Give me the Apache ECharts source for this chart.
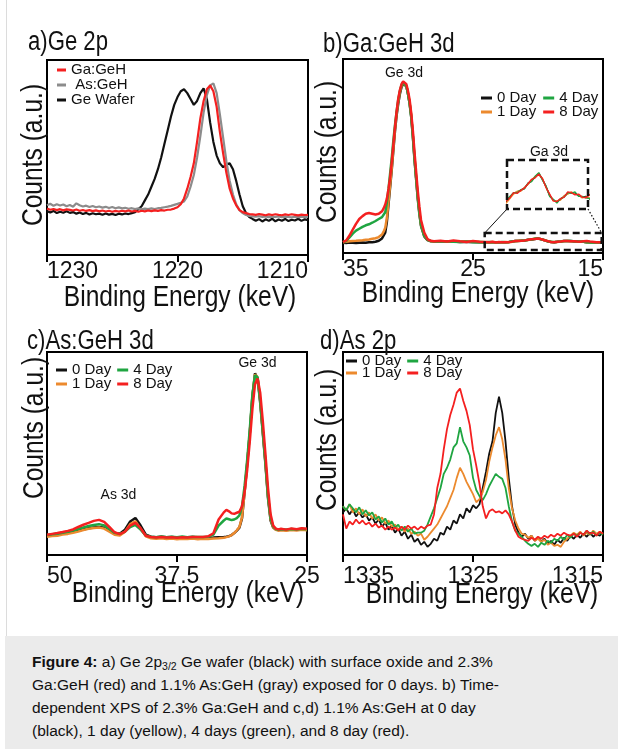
<!DOCTYPE html>
<html><head><meta charset="utf-8">
<script src="https://cdn.jsdelivr.net/npm/echarts@6/dist/echarts.min.js"></script>
<style>
html,body{margin:0;padding:0;background:#fff;}
#chart{position:absolute;left:0;top:0;width:618px;height:749px;}
#cap{position:absolute;left:5px;top:636px;width:613px;height:113px;background:#ebebeb;box-sizing:border-box;padding:14px 0 0 27px;font-family:'Liberation Sans',Arial,sans-serif;font-size:15.5px;line-height:23px;color:#111;white-space:nowrap;}
#cap sub{font-size:10.5px;vertical-align:-3px;line-height:0;}
</style></head><body>
<div id="chart"></div>
<div id="cap"><b>Figure 4:</b> a) Ge 2p<sub>3/2</sub> Ge wafer (black) with surface oxide and 2.3%<br>Ga:GeH (red) and 1.1% As:GeH (gray) exposed for 0 days. b) Time-<br>dependent XPS of 2.3% Ga:GeH and c,d) 1.1% As:GeH at 0 day<br>(black), 1 day (yellow), 4 days (green), and 8 day (red).</div>
<script>
// ---------- Panel a: Ge 2p ----------
const aEnergy = [
1230, 1229.75, 1229.5, 1229.25, 1229, 1228.75, 1228.5, 1228.25,
1228, 1227.75, 1227.5, 1227.25, 1227, 1226.75, 1226.5, 1226.25,
1226, 1225.75, 1225.5, 1225.25, 1225, 1224.75, 1224.5, 1224.25,
1224, 1223.75, 1223.5, 1223.25, 1223, 1222.75, 1222.5, 1222.25,
1222, 1221.75, 1221.5, 1221.25, 1221, 1220.75, 1220.5, 1220.25,
1220, 1219.75, 1219.5, 1219.25, 1219, 1218.75, 1218.5, 1218.25,
1218, 1217.75, 1217.5, 1217.25, 1217, 1216.75, 1216.5, 1216.25,
1216, 1215.75, 1215.5, 1215.25, 1215, 1214.75, 1214.5, 1214.25,
1214, 1213.75, 1213.5, 1213.25, 1213, 1212.75, 1212.5, 1212.25,
1212, 1211.75, 1211.5, 1211.25, 1211, 1210.75, 1210.5, 1210.25,
1210];
const aGaGeH = [
23.8, 23.2, 23.6, 23.0, 23.5, 22.9, 23.4, 23.1,
22.8, 23.3, 22.7, 23.1, 22.6, 23.0, 22.5, 22.9,
22.4, 22.8, 22.3, 22.7, 22.2, 22.6, 22.3, 22.7,
22.4, 22.8, 22.3, 22.6, 22.2, 22.7, 22.4, 22.8,
22.5, 22.9, 22.6, 23.0, 22.8, 23.2, 23.3, 23.8,
24.5, 26, 29, 34, 40, 47, 58, 70,
79, 85, 87, 84, 76, 63, 52, 42,
34, 29, 25.5, 23, 22, 21.5, 21, 20.8,
20.6, 21, 20.7, 20.4, 20.8, 20.5, 20.9, 20.6,
20.4, 20.8, 20.5, 20.9, 20.6, 20.3, 20.7, 20.5,
20.6];
const aAsGeH = [
25.5, 26.3, 25.2, 26.0, 25.4, 25.9, 25.0, 25.6,
24.8, 26.5, 25.5, 24.9, 25.3, 24.6, 25.1, 24.5,
24.9, 24.3, 24.7, 24.1, 24.6, 24.0, 24.4, 23.9,
24.2, 23.7, 24.0, 23.5, 23.9, 23.4, 23.8, 23.5,
23.9, 23.6, 24.0, 24.2, 24.5, 24.8, 25.2, 25.7,
26.2, 26.8, 27.5, 30, 35, 41, 50, 61,
73, 82, 87, 88, 83, 72, 60, 48,
38, 31, 26, 23, 21.5, 20.5, 20, 19.8,
19.6, 19.9, 19.5, 19.8, 19.4, 19.7, 19.5, 19.8,
19.4, 19.7, 19.5, 19.3, 19.6, 19.4, 19.7, 19.5,
19.6];
const aGeWafer = [
22.5, 21.8, 22.6, 21.5, 22.2, 21.7, 22.4, 21.6,
22.0, 21.2, 21.8, 21.0, 21.6, 20.8, 21.4, 20.9,
21.2, 20.6, 21.3, 20.7, 21.1, 20.5, 21.2, 20.8,
21.3, 21.0, 21.5, 22.0, 23.5, 25, 28, 31,
35, 39, 44, 50, 57, 64, 71, 77,
81, 84, 85, 83, 80, 77, 79, 83,
85.5, 80, 68, 58, 51, 47, 45, 46.5,
47, 44, 38, 31, 25, 21.5, 19.5, 18.5,
17.6, 18.4, 17.2, 18.3, 17.5, 18.6, 17.3, 18.2,
17.6, 18.5, 17.4, 18.1, 17.7, 18.6, 17.5, 18.3,
17.9];

// ---------- Panel b: Ga:GeH 3d ----------
const bEnergy = [
35, 34.75, 34.5, 34.25, 34, 33.75, 33.5, 33.25, 33, 32.75, 32.5, 32.25, 32,
31.875, 31.75, 31.625, 31.5, 31.375, 31.25, 31.125, 31, 30.875, 30.75, 30.625, 30.5,
30.375, 30.25, 30.125, 30, 29.875, 29.75, 29.625, 29.5, 29.375, 29.25, 29.125,
29, 28.75, 28.5, 28.25, 28,
27.5, 27, 26.5, 26, 25.5, 25, 24.5,
24, 23.75, 23.5, 23.25, 23, 22.75, 22.5, 22.25,
22, 21.75, 21.5, 21.25, 21, 20.75, 20.5, 20.25,
20, 19.75, 19.5, 19.25, 19, 18.75, 18.5, 18.25,
18, 17.75, 17.5, 17.25, 17, 16.75, 16.5, 16.25,
16, 15.5, 15];
const b0Day = [
5.3, 5.2, 5.4, 5.3, 5.2, 5.3, 5.4, 5.3, 5.5, 5.6, 5.8, 6.3, 7.5,
8.5, 10.5, 16, 25, 34, 43, 53, 63, 71, 77, 82, 85.5,
87.2, 87.5, 86, 82, 77, 70, 60, 48, 38, 28, 20,
14, 8.5, 6.6, 6.0, 5.9,
5.9, 5.8, 5.9, 5.7, 5.8, 5.7, 5.6,
5.5, 5.6, 5.5, 5.6, 5.5, 5.6, 5.5, 5.6,
5.9, 6.15, 6.25, 6.35, 6.5, 6.8, 7.0, 7.25,
7.5, 7.1, 6.6, 6.0, 5.7, 5.6, 5.75, 5.95,
6.15, 6.2, 6.15, 6.0, 5.9, 5.95, 5.8, 5.6,
5.5, 5.5, 5.4];
const b1Day = [
5.6, 5.8, 6.0, 6.2, 6.3, 6.5, 6.6, 6.8, 7.0, 7.3, 7.6, 8.2, 9.5,
11, 13, 18, 26.5, 35, 44, 54, 64, 72, 78, 83, 86,
87.5, 87.5, 86, 82.5, 77.5, 71, 61, 49.5, 39, 29, 21,
14.5, 9, 6.8, 6.1, 6.0,
6.0, 5.9, 6.0, 5.8, 5.9, 5.8, 5.7,
5.6, 5.5, 5.65, 5.5, 5.6, 5.55, 5.65, 5.5,
5.8, 6.1, 6.3, 6.3, 6.55, 6.75, 7.05, 7.3,
7.4, 7.15, 6.55, 6.05, 5.65, 5.65, 5.7, 6.0,
6.1, 6.25, 6.1, 6.05, 5.85, 5.9, 5.85, 5.55,
5.55, 5.5, 5.45];
const b4Day = [
5.5, 6.2, 8, 10, 11.5, 12.5, 13.5, 14.3, 14.8, 15.6, 16.5, 17.5, 18.5,
19.5, 21, 26, 33, 41, 49, 58, 66, 73, 79, 83.5, 86.5,
88, 88, 86, 82, 77, 70, 60, 49, 39, 29, 21,
14.5, 9, 6.8, 6.2, 6.0,
5.9, 6.1, 5.8, 5.7, 5.9, 5.6, 5.7,
5.55, 5.7, 5.5, 5.6, 5.45, 5.65, 5.5, 5.7,
5.95, 6.2, 6.2, 6.4, 6.45, 6.85, 6.95, 7.3,
7.55, 7.05, 6.65, 5.95, 5.75, 5.5, 5.8, 5.9,
6.2, 6.15, 6.25, 5.95, 5.95, 5.85, 5.8, 5.6,
5.45, 5.5, 5.35];
const b8Day = [
5.6, 6.5, 9, 12, 15, 17.5, 19, 20.2, 20.6, 20.2, 19.8, 20.2, 21.5,
23, 25, 28, 33, 39, 47, 56, 65, 73, 79.5, 84, 87,
88.5, 88.5, 87, 83.5, 79, 72, 63, 52, 42, 32, 24,
17, 10.5, 7.2, 6.3, 6.1,
6.3, 5.9, 6.4, 6.0, 5.7, 6.2, 5.8,
5.7, 5.5, 5.75, 5.45, 5.7, 5.5, 5.6, 5.65,
5.85, 6.2, 6.15, 6.35, 6.5, 6.8, 7.1, 7.2,
7.45, 7.15, 6.55, 6.1, 5.65, 5.6, 5.8, 5.9,
6.25, 6.2, 6.05, 6.1, 5.9, 5.85, 6.05, 6.2,
5.9, 5.6, 5.5];

// ---------- Panel c: As:GeH 3d ----------
const cEnergy = [
50, 49.5, 49, 48.5, 48, 47.5, 47, 46.5,
46, 45.5, 45, 44.5, 44, 43.5, 43, 42.5,
42, 41.5, 41, 40.5, 40, 39.5, 39, 38.5,
38, 37.5, 37, 36.5, 36, 35.5, 35, 34.5,
34, 33.5, 33,
32.75, 32.5, 32.25, 32, 31.75, 31.5, 31.25, 31,
30.75, 30.5, 30.25, 30, 29.75, 29.5, 29.25, 29,
28.75, 28.5, 28.25, 28, 27.75, 27.5,
27, 26.5, 26, 25.5, 25];
const c0Day = [
9.5, 9.8, 10.2, 10.6, 11.0, 11.5, 12.0, 12.6,
13.2, 13.6, 13.8, 13.4, 12.0, 10.8, 10.5, 12.5,
16.5, 18.2, 14.5, 10.0, 9.0, 8.8, 9.0, 8.7,
8.9, 8.6, 8.8, 8.7, 8.9, 8.6, 8.7, 8.5,
8.6, 8.8, 8.9,
9.0, 9.3, 9.8, 10.8, 12, 13.5, 18, 31,
45, 60, 78, 89.5, 87, 75, 60, 45,
28, 17, 13.5, 12.6, 12.3, 12.5,
12.3, 12.6, 12.4, 12.7, 12.5];
const c1Day = [
9.0, 9.3, 9.5, 10.1, 10.4, 11.0, 11.6, 12.3,
12.9, 13.3, 13.5, 13.0, 11.5, 10.0, 9.6, 11.5,
15.2, 16.6, 13.0, 9.2, 8.2, 8.0, 8.3, 7.9,
8.1, 7.8, 8.0, 7.9, 8.1, 7.8, 8.0, 7.9,
8.1, 8.2, 8.5,
8.8, 9.2, 9.8, 10.8, 12.2, 13.8, 18.5, 31,
45, 60, 78, 89, 87.5, 76, 61, 46,
29, 17.5, 13.5, 12.4, 12.0, 12.2,
12.0, 12.3, 12.1, 12.4, 12.2];
const c4Day = [
9.8, 10.2, 10.5, 11.0, 11.4, 12.0, 12.8, 13.6,
14.3, 14.8, 15.2, 14.6, 12.8, 10.9, 10.4, 11.5,
13.8, 14.8, 12.5, 9.6, 9.0, 8.8, 9.1, 8.7,
9.0, 8.8, 9.1, 8.8, 9.0, 8.9, 8.9, 9.0,
10.0, 14.5, 17.0,
18.0, 17.6, 17.2, 17.5, 18.2, 19.5, 24, 34,
47, 62, 79, 88.5, 87.5, 76, 61, 46,
29, 18, 14, 12.8, 12.4, 12.6,
12.5, 12.8, 12.6, 12.9, 12.7];
const c8Day = [
10.0, 10.4, 10.8, 11.3, 11.9, 12.6, 13.8, 14.9,
15.8, 16.8, 17.3, 16.3, 13.8, 11.2, 10.3, 11.5,
14.5, 15.8, 13.2, 9.5, 8.9, 8.6, 8.9, 8.6,
8.8, 8.5, 8.8, 8.6, 8.9, 8.9, 8.9, 9.2,
10.7, 17.5, 21.0,
22.2, 21.5, 20.5, 20.3, 20.8, 21.3, 24, 31,
42, 56, 72, 84, 87, 80, 66, 50,
33, 20, 14.5, 13.0, 12.6, 12.9,
12.5, 13.1, 12.7, 13.2, 12.9];

// ---------- Panel d: As 2p ----------
const dEnergy = [
1335, 1334.75, 1334.5, 1334.25, 1334, 1333.75, 1333.5, 1333.25,
1333, 1332.75, 1332.5, 1332.25, 1332, 1331.75, 1331.5, 1331.25,
1331, 1330.75, 1330.5, 1330.25, 1330, 1329.75, 1329.5, 1329.25,
1329, 1328.75, 1328.5, 1328.25, 1328, 1327.75, 1327.5, 1327.25,
1327, 1326.75, 1326.5, 1326.25, 1326, 1325.75, 1325.5, 1325.25,
1325, 1324.75, 1324.5, 1324.25, 1324, 1323.75, 1323.5, 1323.25,
1323, 1322.75, 1322.5, 1322.25, 1322, 1321.75, 1321.5, 1321.25,
1321, 1320.75, 1320.5, 1320.25, 1320, 1319.75, 1319.5, 1319.25,
1319, 1318.75, 1318.5, 1318.25, 1318, 1317.75, 1317.5, 1317.25,
1317, 1316.75, 1316.5, 1316.25, 1316, 1315.75, 1315.5, 1315.25,
1315];
const d0Day = [
21, 23, 20, 22.5, 19, 21, 18.5, 20,
17, 18.5, 15.5, 17.5, 14, 16, 12.5, 14.5,
11, 13, 9.5, 11.5, 8, 10, 6.5, 8,
5, 6.5, 4, 5.5, 8, 7, 11, 10,
14, 12.5, 17, 15.5, 20, 18, 23, 21,
24.5, 23, 25, 33, 41, 50, 56, 70,
78, 70, 56, 38, 24, 15, 11, 9,
10.5, 8, 9.5, 7, 8.5, 6.5, 8, 5.5,
7, 5, 7.5, 6, 8.5, 7, 9.5, 8,
10, 8.5, 10.5, 9, 11, 9, 10.5, 9.5,
11];
const d1Day = [
24, 22, 25, 21, 23, 20, 22.5, 19,
21, 18, 20, 17, 18.5, 15.5, 17, 14,
15, 12.5, 14, 11.5, 13, 10.5, 11.5, 9.5,
10.5, 7.5, 9, 11, 13, 15, 18, 21,
24, 28, 32, 38, 43, 40, 36, 33,
30, 26, 27.5, 31, 37, 46, 53, 59,
63, 57, 47, 33, 23, 17, 13, 10.5,
10, 8.5, 9.5, 7, 8, 6.5, 7.5, 5,
6, 4.5, 5, 4, 6.5, 8, 9.5, 11,
10, 11.5, 9.5, 11, 10, 12, 10.5, 11.5,
10.5];
const d4Day = [
24, 22, 25, 23, 21, 23.5, 20, 22,
19.5, 21, 17.5, 19, 16, 18, 15, 16.5,
13.5, 15, 12, 14, 11.5, 13, 10.5, 11,
11, 12, 15, 19, 23, 28, 33, 40,
43, 47, 53, 55, 63, 56, 53, 49,
38, 32, 29, 27, 30, 34, 37, 40,
38.5, 37.5, 33, 24, 16.5, 12, 10.5, 9,
7, 5.5, 4.5, 5.5, 4, 6, 5, 7,
6, 8, 7, 9, 7.5, 10, 8.5, 10.5,
9.5, 11, 10, 12, 10, 11.5, 9.5, 11,
10];
const d8Day = [
20, 13, 16.5, 15, 17.5, 15.5, 17, 15,
16, 14, 15.5, 13.5, 14.5, 12.5, 14, 12.5,
13.5, 12, 14, 12.5, 14.5, 13, 14, 12.5,
14, 13, 14.5, 15, 20, 33, 40, 52,
62, 69, 74, 80, 82, 76, 71, 64,
52, 44, 35, 24, 18, 21.5, 22.5, 21,
21.5, 20.5, 22, 20, 16.5, 12, 9, 8,
7.5, 7, 8.5, 7.5, 9, 8, 9.5, 8.5,
10, 9, 10.5, 9.5, 11, 10, 9.5, 10.5,
9, 11, 10, 12, 10.5, 11, 9.5, 11.5,
10.5];

// ---------- axis ranges / annotation ranges ----------
const aXRange = [1210, 1230, 10];
const bXRange = [15, 35, 10];
const cXRange = [25, 50, 12.5];
const dXRange = [1315, 1335, 10];
const insetXRange = [16.6, 22.2];
const insetYRange = [5.1, 8.4];
const gaBoxE = [15.1, 24.1];
const gaBoxV = [1.5, 10.3];

const COLORS = {'0 Day':'#111111','1 Day':'#ec8a2e','4 Day':'#1fa541','8 Day':'#f42020',
  'Ga:GeH':'#f42020','As:GeH':'#8c8c8c','Ge Wafer':'#111111'};
const FONT = "'Liberation Sans', Arial, sans-serif";
const NARROW = 0.82;

const zip = (xs, ys) => xs.map((x, i) => [x, ys[i]]);
function mk(name, gi, xs, ys, w) {
  return {type:'line', name, xAxisIndex:gi, yAxisIndex:gi, data:zip(xs, ys), symbol:'none', showSymbol:false,
    animation:false, clip:true, lineStyle:{color:COLORS[name], width:w}, itemStyle:{color:COLORS[name]},
    emphasis:{disabled:true}};
}
function xAx(gi, r, margin, aMin, aMax) {
  return {gridIndex:gi, type:'value', min:r[0], max:r[1], interval:r[2], inverse:true,
    axisLine:{show:true, lineStyle:{color:'#000', width:2}},
    axisTick:{show:true, inside:false, length:7, lineStyle:{color:'#000', width:2}},
    axisLabel:{show:true, margin, color:'#111', fontSize:23, lineHeight:23, fontFamily:FONT,
      alignMinLabel:aMin, alignMaxLabel:aMax, formatter:v => String(v)},
    splitLine:{show:false}};
}
function yAx(gi) {
  return {gridIndex:gi, type:'value', min:0, max:100, axisLine:{show:false}, axisTick:{show:false},
    axisLabel:{show:false}, splitLine:{show:false}};
}
const gridBase = {show:true, borderColor:'#000', borderWidth:2, backgroundColor:'rgba(0,0,0,0)'};
function legend(data, left, top, gap, extra) {
  return Object.assign({data, left, top, orient:'horizontal', icon:'rect', itemWidth:11, itemHeight:3,
    itemGap:gap, selectedMode:false, padding:0,
    textStyle:{fontSize:15, lineHeight:15, fontFamily:FONT, color:'#111'}}, extra || {});
}

const option = {
  animation:false,
  backgroundColor:'#fff',
  grid:[
    Object.assign({left:47, top:60, width:261, height:195}, gridBase),
    Object.assign({left:343, top:59, width:260, height:194}, gridBase),
    Object.assign({left:47, top:352, width:260, height:203}, gridBase),
    Object.assign({left:343, top:352, width:260, height:203}, gridBase),
    {left:507, top:160, width:81, height:49, show:false}
  ],
  xAxis:[
    xAx(0, aXRange, 5, 'right', 'left'),
    xAx(1, bXRange, 4.7, 'right', 'left'),
    xAx(2, cXRange, 10, 'center', 'left'),
    xAx(3, dXRange, 10, 'right', 'left'),
    {gridIndex:4, type:'value', min:insetXRange[0], max:insetXRange[1], inverse:true, show:false}
  ],
  yAxis:[yAx(0), yAx(1), yAx(2), yAx(3),
    {gridIndex:4, type:'value', min:insetYRange[0], max:insetYRange[1], show:false}],
  legend:[
    legend(['Ga:GeH','As:GeH','Ge Wafer'], 57, 62.5, 0, {orient:'vertical', itemWidth:9,
      formatter:n => n === 'As:GeH' ? ' ' + n : n}),
    legend(['0 Day','4 Day'], 481, 90.5, 7),
    legend(['1 Day','8 Day'], 481, 104.5, 7),
    legend(['0 Day','4 Day'], 56, 362.5, 6),
    legend(['1 Day','8 Day'], 56, 376.5, 6),
    legend(['0 Day','4 Day'], 346, 353.5, 6),
    legend(['1 Day','8 Day'], 346, 365.5, 6)
  ],
  series:[
    mk('Ge Wafer', 0, aEnergy, aGeWafer, 2.2),
    mk('As:GeH', 0, aEnergy, aAsGeH, 2.2),
    mk('Ga:GeH', 0, aEnergy, aGaGeH, 2.2),
    mk('0 Day', 1, bEnergy, b0Day, 2.5),
    mk('1 Day', 1, bEnergy, b1Day, 2.5),
    mk('4 Day', 1, bEnergy, b4Day, 2.5),
    mk('8 Day', 1, bEnergy, b8Day, 2.5),
    mk('0 Day', 4, bEnergy, b0Day, 1.4),
    mk('1 Day', 4, bEnergy, b1Day, 1.4),
    mk('4 Day', 4, bEnergy, b4Day, 1.4),
    mk('8 Day', 4, bEnergy, b8Day, 1.4),
    mk('0 Day', 2, cEnergy, c0Day, 2.5),
    mk('1 Day', 2, cEnergy, c1Day, 2.5),
    mk('4 Day', 2, cEnergy, c4Day, 2.5),
    mk('8 Day', 2, cEnergy, c8Day, 2.5),
    mk('0 Day', 3, dEnergy, d0Day, 1.8),
    mk('1 Day', 3, dEnergy, d1Day, 1.8),
    mk('4 Day', 3, dEnergy, d4Day, 1.8),
    mk('8 Day', 3, dEnergy, d8Day, 1.8)
  ]
};

const chart = echarts.init(document.getElementById('chart'), null, {renderer:'canvas'});
chart.setOption(option);

function txt(text, x, y, size, align, rot, sx) {
  return {type:'text', x, y, rotation:rot || 0, scaleX:sx || 1, silent:true, z:50,
    style:{text, fill:'#111', fontSize:size, fontFamily:FONT, align:align || 'center', verticalAlign:'middle'}};
}
const tl = chart.convertToPixel({gridIndex:1}, [gaBoxE[1], gaBoxV[1]]);
const br = chart.convertToPixel({gridIndex:1}, [gaBoxE[0], gaBoxV[0]]);
const itl = chart.convertToPixel({gridIndex:4}, [insetXRange[1], insetYRange[1]]);
const ibr = chart.convertToPixel({gridIndex:4}, [insetXRange[0], insetYRange[0]]);

const graphic = [
  {type:'line', silent:true, shape:{x1:6.5, y1:0, x2:6.5, y2:636}, style:{stroke:'#dcdcdc', lineWidth:1}},
  txt('a)Ge 2p', 28, 42.5, 27, 'left', 0, NARROW),
  txt('b)Ga:GeH 3d', 323, 45, 27, 'left', 0, NARROW),
  txt('c)As:GeH 3d', 27, 342, 27, 'left', 0, NARROW),
  txt('d)As 2p', 320, 342, 27, 'left', 0, NARROW),
  txt('Binding Energy (keV)', 180, 297.5, 30, 'center', 0, NARROW),
  txt('Binding Energy (keV)', 478, 294, 30, 'center', 0, NARROW),
  txt('Binding Energy (keV)', 188, 594, 30, 'center', 0, NARROW),
  txt('Binding Energy (keV)', 482, 595, 30, 'center', 0, NARROW),
  txt('Counts (a.u.)', 34, 155, 30, 'center', Math.PI / 2, NARROW),
  txt('Counts (a.u.)', 328, 152, 30, 'center', Math.PI / 2, NARROW),
  txt('Counts (a.u.)', 35, 428, 30, 'center', Math.PI / 2, NARROW),
  txt('Counts (a.u.)', 328, 440, 30, 'center', Math.PI / 2, NARROW),
  txt('Ge 3d', 404, 73, 14),
  txt('Ga 3d', 549, 152, 14),
  txt('As 3d', 118.5, 495, 14),
  txt('Ge 3d', 257.5, 363, 14),
  {type:'rect', silent:true, z:40, shape:{x:tl[0], y:tl[1], width:br[0]-tl[0], height:br[1]-tl[1]},
    style:{fill:'none', stroke:'#111', lineWidth:2.5, lineDash:[7,4]}},
  {type:'rect', silent:true, z:40, shape:{x:itl[0], y:itl[1], width:ibr[0]-itl[0], height:ibr[1]-itl[1]},
    style:{fill:'none', stroke:'#111', lineWidth:2.5, lineDash:[7,4]}},
  {type:'line', silent:true, z:40, shape:{x1:itl[0], y1:ibr[1], x2:tl[0], y2:tl[1]},
    style:{stroke:'#111', lineWidth:1}},
  {type:'line', silent:true, z:40, shape:{x1:ibr[0], y1:ibr[1], x2:br[0], y2:tl[1]},
    style:{stroke:'#111', lineWidth:1.2, lineDash:[1.5,2]}}
];
chart.setOption({graphic});
</script>
</body></html>
